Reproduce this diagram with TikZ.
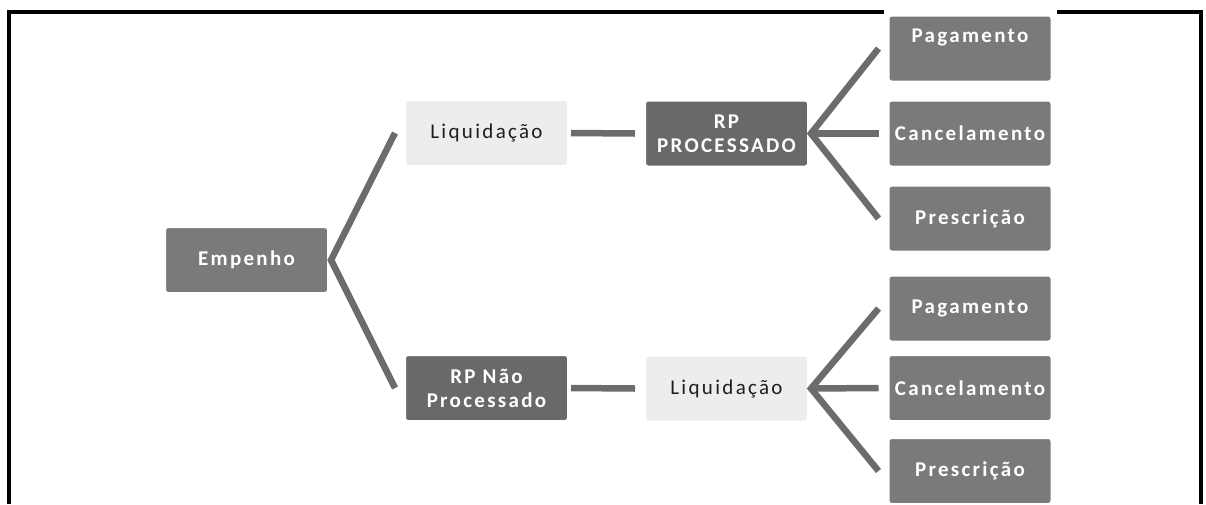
\documentclass[tikz,border=0pt]{standalone}
\usepackage{fontspec}
\setmainfont{Carlito}[LetterSpace=11]
\usetikzlibrary{backgrounds}

\definecolor{boxgray}{HTML}{7A7A7A}
\definecolor{rpgray}{HTML}{696969}
\definecolor{boxlight}{HTML}{EDEDED}
\definecolor{liqtext}{HTML}{1E1E1E}
\definecolor{linkgray}{HTML}{6C6C6C}

\begin{document}
\begin{tikzpicture}[x=1pt,y=-1pt,
    box/.style={rounded corners=3pt,draw=white,line width=2pt,fill=boxgray,
      minimum width=163pt,minimum height=66pt,inner sep=0pt,align=center,
      text=white,font=\fontsize{21}{24}\selectfont\bfseries},
    rpbox/.style={box,fill=rpgray},
    liqbox/.style={box,fill=boxlight,text=liqtext,font=\fontsize{21}{24}\selectfont},
    link/.style={draw=linkgray,line width=6.5pt}]

      \useasboundingbox (0,0) rectangle (1206,504);

      \node[box]    (1)  at (246.5,260)   {Empenho};
      \node[liqbox] (2)  at (486.5,133)   {Liquidação};
      \node[rpbox]  (3)  at (486.5,388)   {RP Não\\Processado};
      \node[rpbox]  (4)  at (726.5,133.5) {RP\\PROCESSADO};
      \node[liqbox] (5)  at (726.5,388.5) {Liquidação};
      \node[box,text depth=26pt] (6) at (970,48.5) {Pagamento};
      \node[box]    (7)  at (970,133.5)   {Cancelamento};
      \node[box]    (8)  at (970,218.5)   {Prescrição};
      \node[box]    (9)  at (970,308.5)   {Pagamento};
      \node[box]    (10) at (970,388)     {Cancelamento};
      \node[box]    (11) at (970,471)     {Prescrição};

      \path[link] ([xshift=-9pt]2.west) -- ([xshift=2pt]1.east) -- ([xshift=-9pt]3.west);
      \path[link] ([xshift=2pt]2.east) -- ([xshift=-9pt]4.west);
      \path[link] ([xshift=2pt]3.east) -- ([xshift=-9pt]5.west);
      \path[link] ([xshift=-9pt]6.west) -- ([xshift=2pt]4.east) -- ([xshift=-9pt]8.west);
      \path[link] ([xshift=2pt]4.east) -- ([xshift=-9pt]7.west);
      \path[link] ([xshift=-9pt]9.west) -- ([xshift=2pt]5.east) -- ([xshift=-9pt]11.west);
      \path[link] ([xshift=2pt]5.east) -- ([xshift=-9pt]10.west);

      \begin{scope}[on background layer]
        \draw[line width=4pt] (9,504) -- (9,12) -- (1201,12) -- (1201,504);
        \fill[white] ([shift={(-4pt,8pt)}]6.north west) rectangle ([xshift=4pt]6.north east);
      \end{scope}

    \end{tikzpicture}
\end{document}
